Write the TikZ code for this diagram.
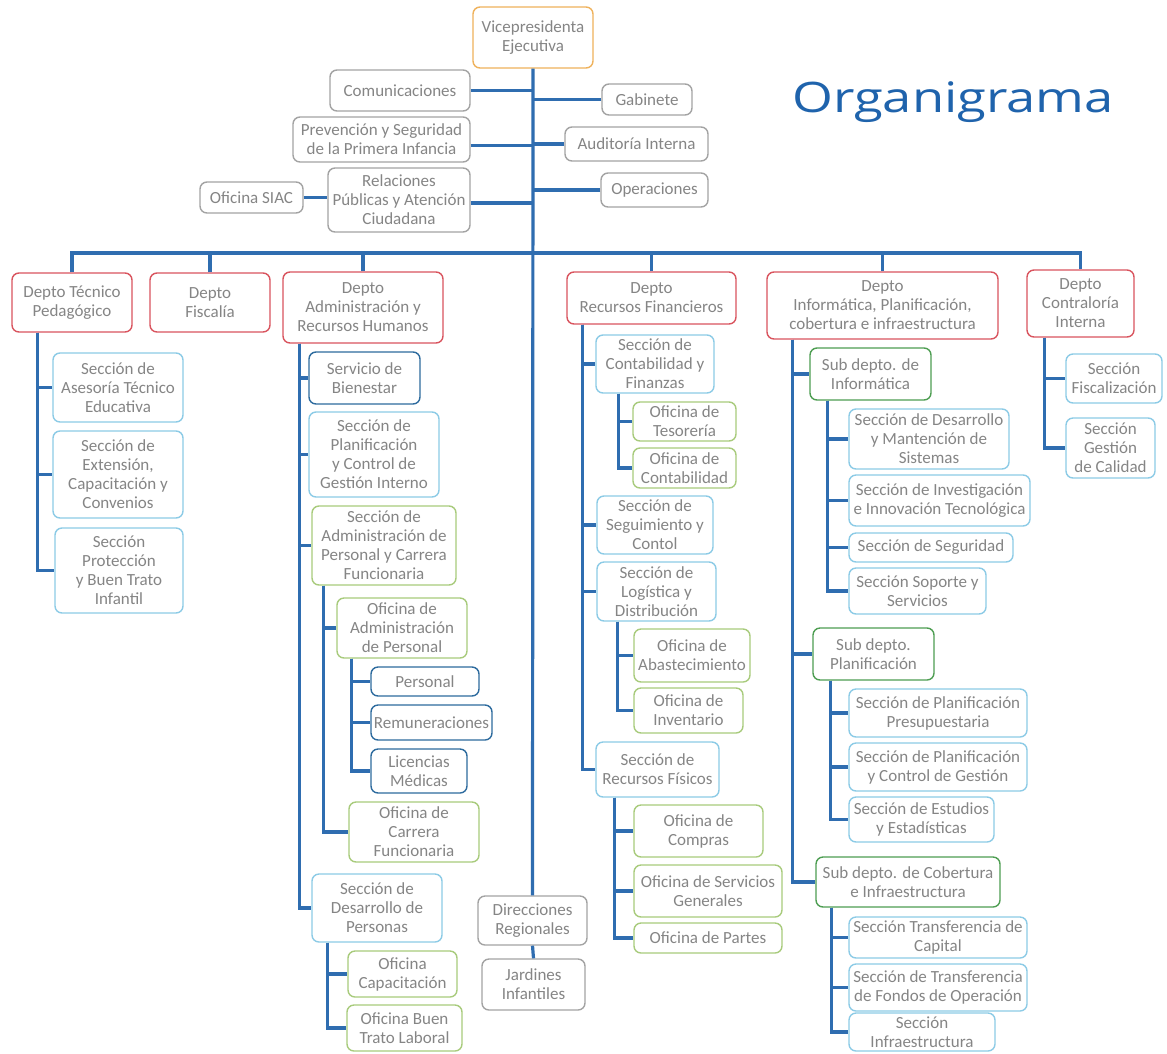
\documentclass[tikz,border=0pt]{standalone}
\usepackage{fontspec}
\setmainfont{Carlito}
\newfontfamily\titlefont{Open Sans}
\definecolor{corange}{HTML}{EFB25C}
\definecolor{cgray}{HTML}{A3A3A3}
\definecolor{cred}{HTML}{D9545E}
\definecolor{cltblue}{HTML}{8CCBE6}
\definecolor{cdkblue}{HTML}{2D6B9E}
\definecolor{cltgreen}{HTML}{A8CB7C}
\definecolor{cdkgreen}{HTML}{4E9E52}
\definecolor{cconn}{HTML}{2F6DB0}
\definecolor{ctxt}{HTML}{858585}
\definecolor{ctitle}{HTML}{1F63AC}
\tikzset{
  box/.style={draw, rounded corners=7pt, line width=1.4pt, align=center, inner sep=0pt,
    text=ctxt, font=\fontsize{17}{19}\selectfont},
  sorange/.style={draw=corange},
  sgray/.style={draw=cgray},
  sred/.style={draw=cred},
  sblue/.style={draw=cltblue},
  sdblue/.style={draw=cdkblue},
  sgreen/.style={draw=cltgreen},
  sdgreen/.style={draw=cdkgreen},
  conn/.style={draw=cconn, line width=3.2pt}
}
\newcommand{\bx}[7]{\node[box,#6,minimum width={#4-#2},minimum height={#5-#3}] (#1) at ({(#2+#4)/2},{(#3+#5)/2}) {#7};}
\newcommand{\tree}[3]{\foreach \c in {#3} {\draw[conn] ([xshift=#2pt]#1.south west) |- (\c.west);}}
\begin{document}
\begin{tikzpicture}[x=1pt,y=-1pt]
\fill[white] (0,0) rectangle (1167,1053);
\useasboundingbox (0,0) rectangle (1167,1053);

\node[anchor=base west, text=ctitle, inner sep=0pt] (title) at (792,112) {\scalebox{1.25}[1]{\fontsize{42}{42}\titlefont Organigrama}};

% top level
\bx{vp}{473}{7}{593}{68}{sorange}{Vicepresidenta\\Ejecutiva}
\bx{com}{330}{70}{470}{111}{sgray}{Comunicaciones}
\bx{gab}{602}{84}{692}{115}{sgray}{Gabinete}
\bx{pre}{293}{117}{470}{162}{sgray}{Prevención y Seguridad\\de la Primera Infancia}
\bx{aud}{565}{127}{708}{161}{sgray}{Auditoría Interna}
\bx{rel}{328}{168}{470}{232}{sgray}{Relaciones\\Públicas y Atención\\Ciudadana}
\bx{siac}{200}{182}{303}{213}{sgray}{Oficina SIAC}
\bx{ope}{601}{173}{708}{207}{sgray}{Operaciones}

% departments
\bx{dtp}{12}{273}{132}{332}{sred}{Depto Técnico\\Pedagógico}
\bx{dfi}{150}{273}{270}{332}{sred}{Depto\\Fiscalía}
\bx{dadm}{283}{272}{443}{343}{sred}{Depto\\Administración y\\Recursos Humanos}
\bx{drf}{567}{272}{736}{324}{sred}{Depto\\Recursos Financieros}
\bx{dinf}{767}{272}{998}{339}{sred}{Depto\\Informática, Planificación,\\cobertura e infraestructura}
\bx{dci}{1027}{270}{1134}{337}{sred}{Depto\\Contraloría\\Interna}

% Depto Tecnico
\bx{ase}{53}{353}{183}{422}{sblue}{Sección de\\Asesoría Técnico\\Educativa}
\bx{ext}{53}{431}{183}{518}{sblue}{Sección de\\Extensión,\\Capacitación y\\Convenios}
\bx{pro}{55}{528}{183}{613}{sblue}{Sección\\Protección\\y Buen Trato\\Infantil}

% Depto Administracion
\bx{bie}{309}{352}{420}{404}{sdblue}{Servicio de\\Bienestar}
\bx{pcg}{309}{412}{439}{497}{sblue}{Sección de\\Planificación\\y Control de\\Gestión Interno}
\bx{apc}{312}{506}{456}{585}{sgreen}{Sección de\\Administración de\\Personal y Carrera\\Funcionaria}
\bx{oap}{337}{598}{467}{658}{sgreen}{Oficina de\\Administración\\de Personal}
\bx{per}{371}{667}{479}{696}{sdblue}{Personal}
\bx{rem}{371}{705}{492}{740}{sdblue}{Remuneraciones}
\bx{lic}{371}{749}{467}{793}{sdblue}{Licencias\\Médicas}
\bx{ocf}{349}{802}{479}{862}{sgreen}{Oficina de\\Carrera\\Funcionaria}
\bx{sdp}{312}{874}{442}{942}{sblue}{Sección de\\Desarrollo de\\Personas}
\bx{ocap}{348}{951}{457}{997}{sgreen}{Oficina\\Capacitación}
\bx{obt}{347}{1005}{462}{1051}{sgreen}{Oficina Buen\\Trato Laboral}
\bx{dir}{478}{896}{587}{945}{sgray}{Direcciones\\Regionales}
\bx{jar}{482}{959}{585}{1010}{sgray}{Jardines\\Infantiles}

% Depto Recursos Financieros
\bx{scf}{596}{335}{714}{393}{sblue}{Sección de\\Contabilidad y\\Finanzas}
\bx{ote}{633}{402}{736}{441}{sgreen}{Oficina de\\Tesorería}
\bx{oco}{633}{448}{736}{488}{sgreen}{Oficina de\\Contabilidad}
\bx{ssc}{597}{496}{713}{554}{sblue}{Sección de\\Seguimiento y\\Contol}
\bx{sld}{597}{562}{716}{621}{sblue}{Sección de\\Logística y\\Distribución}
\bx{oab}{634}{629}{750}{682}{sgreen}{Oficina de\\Abastecimiento}
\bx{oin}{634}{688}{743}{733}{sgreen}{Oficina de\\Inventario}
\bx{srf}{596}{742}{719}{797}{sblue}{Sección de\\Recursos Físicos}
\bx{ocom}{634}{805}{763}{857}{sgreen}{Oficina de\\Compras}
\bx{osg}{634}{865}{782}{917}{sgreen}{Oficina de Servicios\\Generales}
\bx{opa}{634}{923}{782}{953}{sgreen}{Oficina de Partes}

% Depto Informatica
\bx{sdi}{810}{348}{931}{400}{sdgreen}{Sub depto. de\\Informática}
\bx{sdm}{849}{409}{1009}{469}{sblue}{Sección de Desarrollo\\y Mantención de\\Sistemas}
\bx{sii}{849}{475}{1030}{526}{sblue}{Sección de Investigación\\e Innovación Tecnológica}
\bx{sse}{849}{533}{1013}{562}{sblue}{Sección de Seguridad}
\bx{sss}{849}{568}{986}{614}{sblue}{Sección Soporte y\\Servicios}
\bx{sdpl}{813}{628}{934}{680}{sdgreen}{Sub depto.\\Planificación}
\bx{spp}{849}{689}{1027}{737}{sblue}{Sección de Planificación\\Presupuestaria}
\bx{spc}{849}{743}{1027}{791}{sblue}{Sección de Planificación\\y Control de Gestión}
\bx{see}{849}{797}{994}{842}{sblue}{Sección de Estudios\\y Estadísticas}
\bx{sdc}{816}{857}{1000}{907}{sdgreen}{Sub depto. de Cobertura\\e Infraestructura}
\bx{stc}{849}{917}{1027}{958}{sblue}{Sección Transferencia de\\Capital}
\bx{stf}{849}{964}{1027}{1011}{sblue}{Sección de Transferencia\\de Fondos de Operación}
\bx{sin}{849}{1013}{995}{1051}{sblue}{Sección\\Infraestructura}

% Depto Contraloria
\bx{sfi}{1066}{354}{1162}{403}{sblue}{Sección\\Fiscalización}
\bx{sgc}{1066}{418}{1155}{478}{sblue}{Sección\\Gestión\\de Calidad}

% connectors: top
\coordinate (bus) at (532,253);
\draw[conn] (vp.south) -- (dir.north);
\draw[conn] (dir.south) -- (jar.north);
\draw[conn] (com.east) -- (com.east -| vp.south);
\draw[conn] (gab.west) -- (gab.west -| vp.south);
\draw[conn] ([yshift=-6pt]pre.east) -- ([yshift=-6pt]pre.east -| vp.south);
\draw[conn] (aud.west) -- (aud.west -| vp.south);
\draw[conn] ([yshift=-3pt]rel.east) -- ([yshift=-3pt]rel.east -| vp.south);
\draw[conn] (ope.west) -- (ope.west -| vp.south);
\draw[conn] (siac.east) -- (rel.west |- siac.east);

% bus
\draw[conn] (dtp.north) |- (bus) -| (dci.north);
\foreach \d in {dfi,dadm,drf,dinf} {\draw[conn] (\d.north) -- (\d.north |- bus);}

% trees
\tree{dtp}{26}{ase,ext,pro}
\tree{dadm}{17}{bie,pcg,apc,sdp}
\tree{apc}{12}{oap,ocf}
\tree{oap}{15}{per,rem,lic}
\tree{sdp}{16}{ocap,obt}
\tree{drf}{16}{scf,ssc,sld,srf}
\tree{scf}{23}{ote,oco}
\tree{sld}{21}{oab,oin}
\tree{srf}{19}{ocom,osg,opa}
\tree{dinf}{26}{sdi,sdpl,sdc}
\tree{sdi}{18}{sdm,sii,sse,sss}
\tree{sdpl}{18}{spp,spc,see}
\tree{sdc}{16}{stc,stf,sin}
\tree{dci}{18}{sfi,sgc}
\end{tikzpicture}
\end{document}
